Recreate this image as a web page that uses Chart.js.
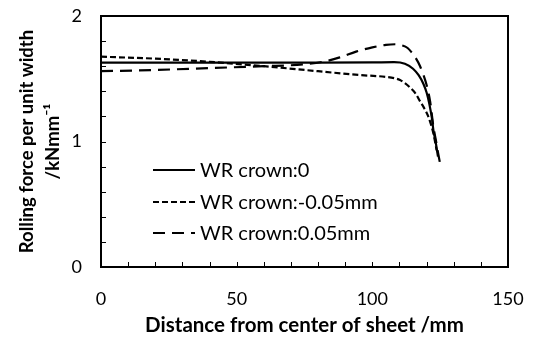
<!DOCTYPE html>
<html>
<head>
<meta charset="utf-8">
<script src="https://cdn.jsdelivr.net/npm/chart.js@4.4.0/dist/chart.umd.min.js"></script>
<style>
  html, body { margin: 0; padding: 0; background: #fff; }
  #wrap { width: 537px; height: 338px; }
</style>
</head>
<body>
<div id="wrap"><canvas id="myChart" width="537" height="338"></canvas></div>
<script>
'use strict';

// series names
let seriesNames = ['WR crown:0', 'WR crown:-0.05mm', 'WR crown:0.05mm'];

// WR crown:0 (solid)
let crown0X = [0, 20, 40, 60, 80, 100, 108, 112, 115, 117, 118.8, 120, 121, 122, 122.5, 123.3, 124.2];
let crown0Y = [1.628, 1.628, 1.628, 1.628, 1.628, 1.63, 1.632, 1.62, 1.58, 1.53, 1.46, 1.39, 1.30, 1.18, 1.09, 1.0, 0.88];

// WR crown:-0.05mm (short dash)
let crownNegX = [0, 20, 40, 60, 80, 95, 105, 108, 110.2, 112, 113.9, 116, 117.6, 119, 120.6, 121.7, 122.5, 123.2, 123.7];
let crownNegY = [1.676, 1.66, 1.635, 1.60, 1.56, 1.53, 1.515, 1.505, 1.49, 1.465, 1.43, 1.38, 1.32, 1.27, 1.20, 1.13, 1.065, 0.99, 0.93];

// WR crown:0.05mm (long dash)
let crownPosX = [0, 20, 40, 60, 75, 82, 88, 94, 100, 105, 108.4, 111, 113, 114.5, 116, 117.6, 119, 120, 121.3, 122.5, 123.5, 124.3, 125.2];
let crownPosY = [1.56, 1.57, 1.585, 1.60, 1.615, 1.636, 1.67, 1.716, 1.75, 1.77, 1.775, 1.765, 1.745, 1.71, 1.665, 1.60, 1.52, 1.45, 1.32, 1.12, 1.0, 0.9, 0.80];

let xTickLabels = [0, 50, 100, 150];
let yTickLabels = [0, 1, 2];

function toPoints(xs, ys){
  let pts = [];
  for(let i = 0; i < xs.length; i++){
    pts.push({x: xs[i], y: ys[i]});
  }
  return pts;
}

let fontName = 'Lato, "Open Sans", sans-serif';

// box + inward ticks + legend inside plot
let framePlugin = {
  id: 'frame',
  afterDatasetsDraw(chart){
    let ctx = chart.ctx;
    let a = chart.chartArea;
    let xs = chart.scales.x;
    let ys = chart.scales.y;
    ctx.save();
    ctx.strokeStyle = '#000';
    ctx.lineWidth = 1;
    for(let v = 10; v < 150; v += 10){
      let px = Math.round(xs.getPixelForValue(v)) + 0.5;
      ctx.beginPath();
      ctx.moveTo(px, a.bottom);
      ctx.lineTo(px, a.bottom - 5);
      ctx.stroke();
    }
    for(let v = 0.2; v < 1.99; v += 0.2){
      let py = Math.round(ys.getPixelForValue(v)) + 0.5;
      ctx.beginPath();
      ctx.moveTo(a.left, py);
      ctx.lineTo(a.left + 5, py);
      ctx.stroke();
    }
    ctx.lineWidth = 2;
    ctx.strokeRect(a.left, a.top, a.right - a.left, a.bottom - a.top);

    // legend
    let lx = 153;
    let ly = [170, 202, 233];
    ctx.font = '20px ' + fontName;
    ctx.fillStyle = '#000';
    ctx.textBaseline = 'middle';
    chart.data.datasets.forEach(function(ds, i){
      ctx.setLineDash(ds.borderDash || []);
      ctx.lineWidth = ds.borderWidth;
      ctx.beginPath();
      ctx.moveTo(lx, ly[i]);
      ctx.lineTo(lx + 42, ly[i]);
      ctx.stroke();
      ctx.setLineDash([]);
      ctx.fillText(ds.label, lx + 47, ly[i] + 1);
    });
    ctx.restore();
  }
};

const ctx = document.getElementById('myChart');

new Chart(ctx, {
  type: 'scatter',
  data: {
    datasets: [{
      label: seriesNames[0],
      data: toPoints(crown0X, crown0Y),
      borderColor: '#000',
      borderWidth: 2.2
    },
    {
      label: seriesNames[1],
      data: toPoints(crownNegX, crownNegY),
      borderColor: '#000',
      borderWidth: 2.2,
      borderDash: [6, 3]
    },
    {
      label: seriesNames[2],
      data: toPoints(crownPosX, crownPosY),
      borderColor: '#000',
      borderWidth: 2.2,
      borderDash: [12, 7]
    }]
  },
  options: {
    responsive: false,
    animation: false,
    showLine: true,
    elements: {
      point: { radius: 0 },
      line: { cubicInterpolationMode: 'monotone', fill: false }
    },
    layout: { padding: { top: 16, right: 29, left: 0, bottom: 0 } },
    plugins: {
      legend: { display: false },
      tooltip: { enabled: false }
    },
    scales: {
      x: {
        type: 'linear',
        min: 0,
        max: 150,
        afterBuildTicks: function(scale){
          scale.ticks = xTickLabels.map(function(v){ return {value: v}; });
        },
        afterFit: function(scale){
          scale.height = 71;
          scale.paddingLeft = 0;
          scale.paddingRight = 0;
        },
        grid: { display: false, drawTicks: false },
        border: { display: false },
        ticks: {
          padding: 21,
          color: '#000',
          maxRotation: 0,
          font: { family: fontName, size: 18 }
        },
        title: {
          display: true,
          text: 'Distance from center of sheet /mm',
          color: '#000',
          padding: { top: 0, bottom: 0 },
          font: { family: fontName, size: 20.5, weight: 'bold' }
        }
      },
      y: {
        min: 0,
        max: 2,
        afterBuildTicks: function(scale){
          scale.ticks = yTickLabels.map(function(v){ return {value: v}; });
        },
        afterFit: function(scale){
          scale.width = 101;
          scale.paddingTop = 0;
          scale.paddingBottom = 0;
        },
        grid: { display: false, drawTicks: false },
        border: { display: false },
        ticks: {
          padding: 19,
          color: '#000',
          font: { family: fontName, size: 18 }
        },
        title: {
          display: true,
          text: ['Rolling force per unit width', '/kNmm\u207B\u00B9'],
          color: '#000',
          padding: { top: 14, bottom: 0 },
          font: { family: fontName, size: 18.5, weight: 'bold', lineHeight: 1.4 }
        }
      }
    }
  },
  plugins: [framePlugin]
});
</script>
</body>
</html>
